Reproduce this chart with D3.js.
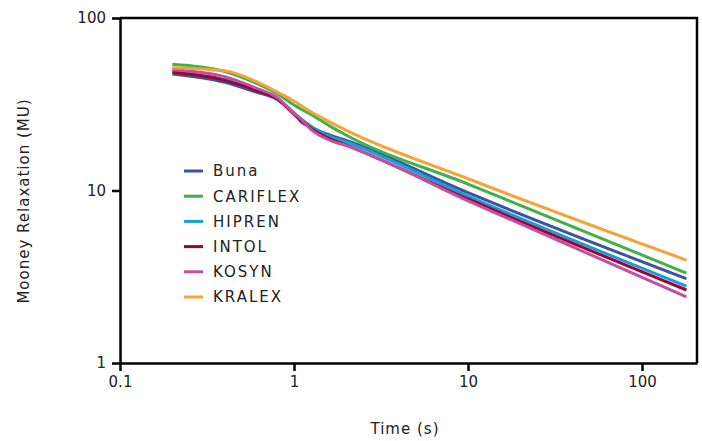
<!DOCTYPE html>
<html><head><meta charset="utf-8">
<script src="https://cdn.jsdelivr.net/npm/d3@7"></script>
<style>
body{margin:0;background:#fff;}
text{font-family:"DejaVu Sans",sans-serif;fill:#222;}
</style></head>
<body><svg id="c" width="702" height="441"></svg>
<script>
const times = [0.2, 0.4, 0.6, 0.8, 1, 1.1, 1.25, 1.6, 2, 10, 180];
const seriesNames = ["Buna","CARIFLEX","HIPREN","INTOL","KOSYN","KRALEX"];
const buna     = [47.4, 42.4, 37.3, 33.7, 28.1, 25.0, 23.2, 21.0, 19.5, 9.71, 3.08];
const cariflex = [53.9, 48.9, 42.0, 36.4, 31.3, 29.6, 27.6, 23.7, 20.9, 10.9, 3.32];
const hipren   = [48.5, 44.0, 38.5, 34.2, 28.0, 26.0, 23.6, 20.6, 19.1, 9.29, 2.79];
const intol    = [48.4, 43.5, 38.2, 34.0, 27.6, 25.5, 23.0, 20.0, 18.3, 8.93, 2.65];
const kosyn    = [50.2, 45.7, 39.4, 34.6, 28.0, 25.9, 22.6, 19.6, 18.2, 8.70, 2.42];
const kralex   = [51.5, 49.4, 43.0, 37.2, 33.0, 31.0, 28.6, 25.0, 22.3, 11.7, 3.95];
const colors = ["#3d52a1","#3fb04a","#14a0d7","#a00037","#c150a0","#f7a139"];
const xTicks = [0.1, 1, 10, 100];
const yTicks = [1, 10, 100];
const xTitle = "Time (s)";
const yTitle = "Mooney Relaxation (MU)";

const allValues = [buna, cariflex, hipren, intol, kosyn, kralex];
const L=120, R=697, T=18, B=363;
const svg = d3.select("#c");
const x = d3.scaleLog().domain([0.1, 207]).range([L, R]);
const y = d3.scaleLog().domain([1, 100]).range([B, T]);

// series
const line = d3.line().x(d=>x(d[0])).y(d=>y(d[1])).curve(d3.curveMonotoneX);
seriesNames.forEach((n,i)=>{
  const pts = times.map((t,j)=>[t, allValues[i][j]]);
  svg.append("path").attr("d", line(pts)).attr("fill","none")
    .attr("stroke", colors[i]).attr("stroke-width",3).attr("stroke-linejoin","round");
});

// frame
svg.append("path").attr("d",`M${L},${T}H${R}V${B}`).attr("fill","none").attr("stroke","#000").attr("stroke-width",2.5);

const xAxis = svg.append("g").attr("transform",`translate(0,${B})`)
  .call(d3.axisBottom(x).tickValues(xTicks).tickFormat(d3.format("~g")).tickSize(8).tickPadding(5).tickSizeOuter(0));
const yAxis = svg.append("g").attr("transform",`translate(${L},0)`)
  .call(d3.axisLeft(y).tickValues(yTicks).tickFormat(d3.format("~g")).tickSize(8).tickPadding(6).tickSizeOuter(0));
[xAxis,yAxis].forEach(g=>{
  g.select(".domain").attr("stroke","#000").attr("stroke-width",2.5);
  g.selectAll(".tick line").attr("stroke","#000").attr("stroke-width",2.5);
  g.selectAll(".tick text").style("font-family","DejaVu Sans").style("font-size","15px").attr("fill","#222");
});

svg.append("text").attr("x",405).attr("y",434).attr("text-anchor","middle")
  .style("font-size","15px").style("letter-spacing","1px").text(xTitle);
svg.append("text").attr("transform","translate(29,201) rotate(-90)").attr("text-anchor","middle")
  .style("font-size","15px").style("letter-spacing","1px").text(yTitle);

// legend
const lg = svg.append("g");
seriesNames.forEach((n,i)=>{
  const yy = 171 + i*25.2;
  lg.append("line").attr("x1",184).attr("x2",203).attr("y1",yy).attr("y2",yy).attr("stroke",colors[i]).attr("stroke-width",3);
  lg.append("text").attr("x",213).attr("y",yy).attr("dy","0.36em")
    .style("font-size","15px").style("letter-spacing","2px").text(n);
});
</script></body></html>
